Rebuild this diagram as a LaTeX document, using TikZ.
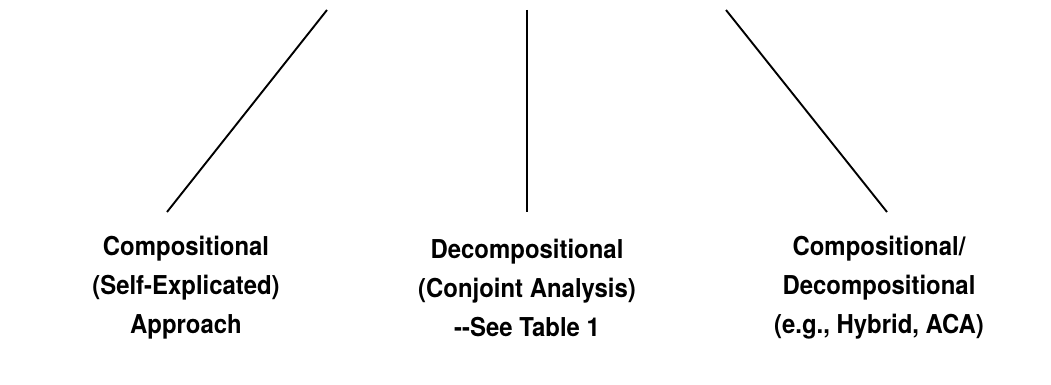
\documentclass[tikz,border=0pt]{standalone}
\usepackage{fontspec}
\setmainfont{TeX Gyre Heros}
\begin{document}
\begin{tikzpicture}
  [x=1pt,y=1pt,every node/.style={align=center,inner sep=0pt,xscale=0.92,font=\fontsize{26}{39}\selectfont\bfseries}]
  \useasboundingbox (0,0) rectangle (1051,384);
  \coordinate (t1) at (327,374);
  \coordinate (t2) at (527,374);
  \coordinate (t3) at (726,374);
  \coordinate (b1) at (167,172);
  \coordinate (b2) at (527,172);
  \coordinate (b3) at (887,172);

  \node (comp) at (186,96) {Compositional\\(Self-Explicated)\\Approach};
  \node (decomp) at (527,96) {Decompositional\\(Conjoint Analysis)\\-{}-See Table 1};
  \node (hybrid) at (879,96) {Compositional/\\Decompositional\\(e.g., Hybrid, ACA)};

  \foreach \from/\to in {t1/b1, t2/b2, t3/b3}
    \draw[line width=1.9pt] (\from) -- (\to);

\end{tikzpicture}
\end{document}
